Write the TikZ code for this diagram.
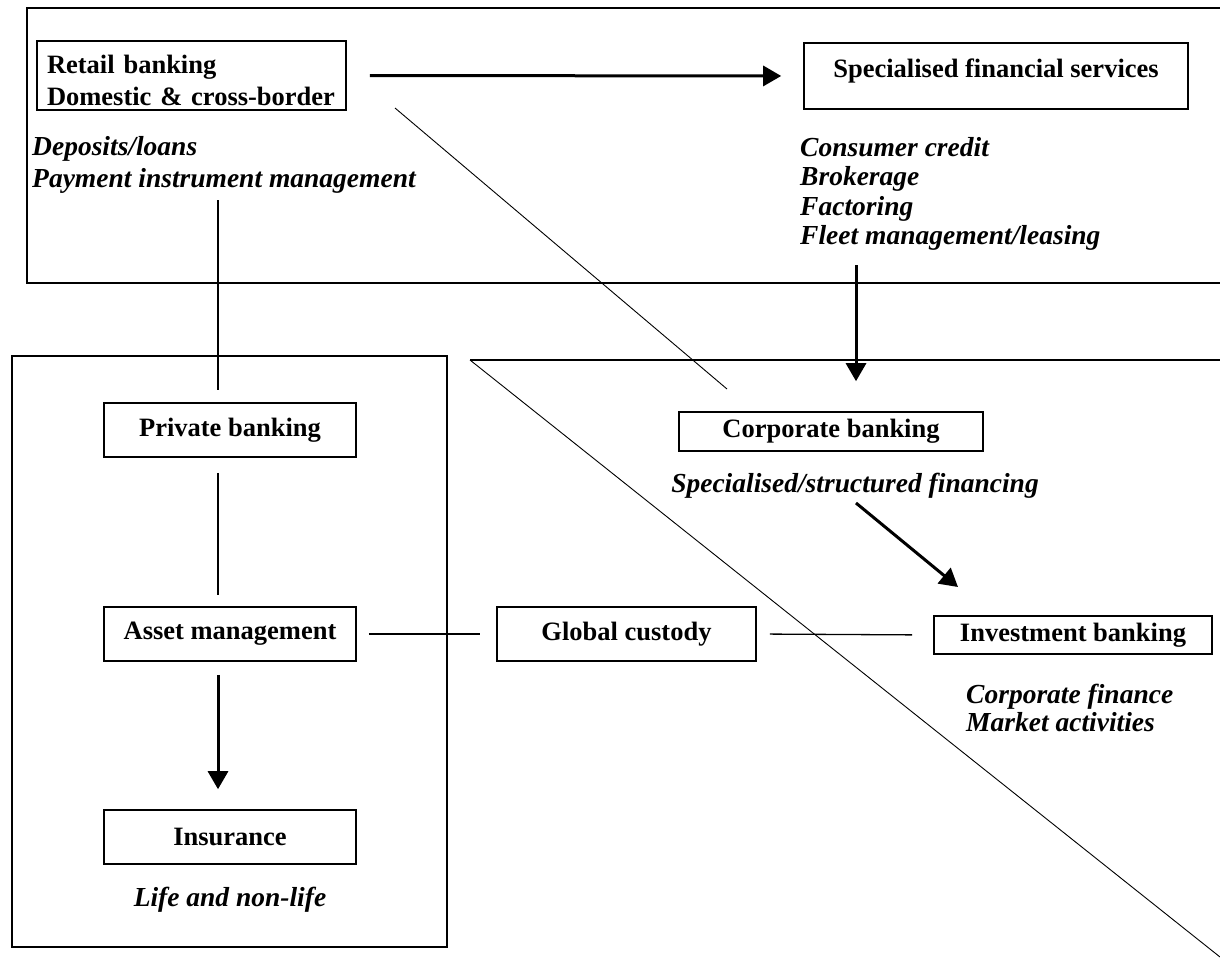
\documentclass[tikz,border=0pt]{standalone}
\usepackage{fontspec}
\setmainfont{Liberation Serif}
\usetikzlibrary{arrows.meta,calc}
\begin{document}
\begin{tikzpicture}[x=1pt,y=-1pt,
  txt/.style={font=\fontsize{26.5}{32}\selectfont\bfseries},
  box/.style={txt, draw, line width=1.6pt, inner sep=0pt, align=center},
  note/.style={font=\fontsize{27.5}{32}\selectfont\bfseries\itshape, inner sep=0pt},
  frame/.style={line width=1.6pt},
  thinline/.style={line width=0.9pt},
  link/.style={line width=1.3pt},
  flow/.style={line width=3pt, -{Triangle[width=20pt,length=18pt]}}]
\useasboundingbox (0,0) rectangle (1220,966);

% frames
\draw[frame] (1220,8) -- (27,8) -- (27,283) -- (1220,283);
\draw[frame] (12,356) rectangle (447,947);
\draw[frame] (1220,360) -- (470,360);
\draw[thinline] (470,360) -- (1220,957);

% boxes
\node[box, minimum width=309pt, minimum height=69pt, text width=289pt, align=left] (retail) at (191.5,75.5) {\rule{0pt}{29pt}Retail banking\\Domestic \& cross-border};
\node[box, minimum width=384pt, minimum height=66pt] (sfs) at (996,76) {\raisebox{16pt}{Specialised financial services}};
\node[box, minimum width=252pt, minimum height=54pt] (private) at (230,430) {Private banking};
\node[box, minimum width=252pt, minimum height=54pt] (asset) at (230,634) {Asset management};
\node[box, minimum width=252pt, minimum height=54pt] (insurance) at (230,837) {Insurance};
\node[box, minimum width=304pt, minimum height=39pt] (corporate) at (831,431.5) {Corporate banking};
\node[box, minimum width=259pt, minimum height=54pt] (custody) at (626.5,634) {Global custody};
\node[box, minimum width=278pt, minimum height=38pt] (invest) at (1073,635) {Investment banking};

% notes
\node[note, anchor=base west] (dep) at (32,155) {Deposits/loans};
\node[note, anchor=base west] (pay) at (32,187) {Payment instrument management};
\node[note, anchor=base west] (cc) at (800,156) {Consumer credit};
\node[note, anchor=base west] (brok) at (800,185.5) {Brokerage};
\node[note, anchor=base west] (fact) at (800,215) {Factoring};
\node[note, anchor=base west] (fleet) at (800,244.5) {Fleet management/leasing};
\node[note, anchor=base] (ssf) at (855,492) {Specialised/structured financing};
\node[note, anchor=base west] (cf) at (966,703) {Corporate finance};
\node[note, anchor=base west] (ma) at (966,731) {Market activities};
\node[note, anchor=base] (life) at (230,906) {Life and non-life};

% connectors
\coordinate (v1) at (218,200);
\coordinate (v2) at (856,265);
\coordinate (d1) at (856,503);
\coordinate (d2) at (958,587);
\coordinate (s1) at (395,108);
\coordinate (s2) at (727,389);

\draw[flow, shorten <=23pt, shorten >=22pt] (retail.east) -- (sfs.west);
\draw[link, shorten >=12pt] (v1) -- (v1 |- private.north);
\draw[link, shorten <=15pt, shorten >=11pt] (private.south -| v1) -- (asset.north -| v1);
\draw[flow, shorten <=13pt, shorten >=20pt] (asset.south -| v1) -- (insurance.north -| v1);
\draw[link, shorten <=12pt, shorten >=16pt] (asset.east) -- (custody.west);
\draw[link, shorten <=13pt, shorten >=21pt] (custody.east) -- (invest.west);
\draw[flow, shorten >=30pt] (v2) -- (v2 |- corporate.north);
\draw[flow] (d1) -- (d2);
\draw[thinline] (s1) -- (s2);
\end{tikzpicture}
\end{document}
